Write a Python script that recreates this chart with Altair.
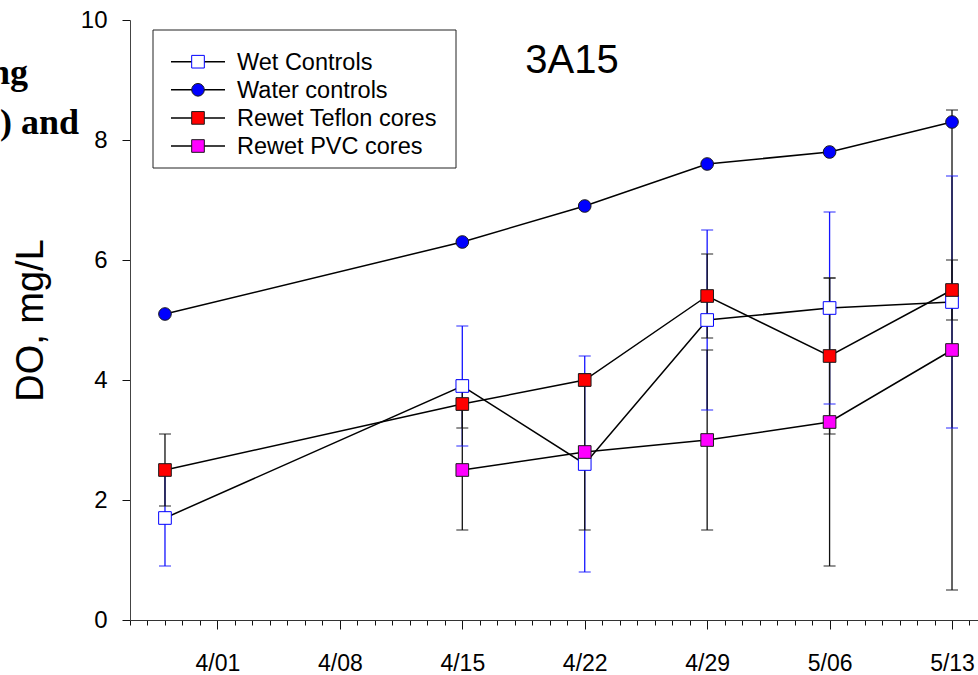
import datetime as dt

import altair as alt
import pandas as pd

# Sampling dates and dissolved-oxygen readings (mg/L) with error half-widths
dates = ["2015-03-29T00:00:00", "2015-04-15T00:00:00", "2015-04-22T00:00:00",
         "2015-04-29T00:00:00", "2015-05-06T00:00:00", "2015-05-13T00:00:00"]
series_names = ["Wet Controls", "Water controls", "Rewet Teflon cores", "Rewet PVC cores"]

wet_mean = [1.7, 3.9, 2.6, 5.0, 5.2, 5.3]
wet_err = [0.8, 1.0, 1.8, 1.5, 1.6, 2.1]
water_mean = [5.1, 6.3, 6.9, 7.6, 7.8, 8.3]
teflon_mean = [2.5, 3.6, 4.0, 5.4, 4.4, 5.5]
teflon_err = [0.6, 0.4, 0.1, 0.7, 1.3, 0.5]
pvc_dates = dates[1:]
pvc_mean = [2.5, 2.8, 3.0, 3.3, 4.5]
pvc_err = [1.0, 1.3, 1.5, 2.4, 4.0]

fill_range = ["#ffffff", "#0000ff", "#ff0000", "#ff00ff"]
stroke_range = ["#0000ff", "#1a1a1a", "#1a1a1a", "#1a1a1a"]
shape_range = ["square", "circle", "square", "square"]
err_range = ["#1414ff", "#111111", "#111111", "#111111"]

FONT = "Liberation Sans"

rows = []
err_rows = []
for name, ds, means, errs in [
    ("Wet Controls", dates, wet_mean, wet_err),
    ("Water controls", dates, water_mean, None),
    ("Rewet Teflon cores", dates, teflon_mean, teflon_err),
    ("Rewet PVC cores", pvc_dates, pvc_mean, pvc_err),
]:
    for i, (d, m) in enumerate(zip(ds, means)):
        rows.append({"date": d, "do": m, "series": name,
                     "order": series_names.index(name)})
        if errs is not None:
            err_rows.append({"date": d, "lo": m - errs[i], "hi": m + errs[i],
                             "series": name})

df = pd.DataFrame(rows)
edf = pd.DataFrame(err_rows)

# legend rows, laid out top to bottom inside the framed key
key_df = pd.DataFrame({"series": series_names})
key_df["ly"] = [41.7 + 28.1 * i for i in range(len(series_names))]

# daily minor ticks, weekly (Wednesday) labelled ticks
start = dt.date(2015, 3, 27)
tick_days = [start + dt.timedelta(days=k) for k in range(49)]
tick_values = [alt.DateTime(year=d.year, month=d.month, date=d.day) for d in tick_days]

x_scale = alt.Scale(
    domain=[alt.DateTime(year=2015, month=3, date=27),
            alt.DateTime(year=2015, month=5, date=14, hours=11, minutes=40)],
    nice=False,
)
y_scale = alt.Scale(domain=[0, 10], nice=False)

shape_scale = alt.Scale(domain=series_names, range=shape_range)
fill_scale = alt.Scale(domain=series_names, range=fill_range)
stroke_scale = alt.Scale(domain=series_names, range=stroke_range)

x_axis = alt.Axis(
    values=tick_values,
    tickCount=200,
    title=None,
    grid=False,
    tickSize={"condition": {"test": "day(datum.value) == 3", "value": 9}, "value": 5},
    tickColor="#111111",
    domainColor="#333333",
    labelExpr="day(datum.value) == 3 ? timeFormat(datum.value, '%-m/%d') : ''",
    labelFont=FONT,
    labelFontSize=23,
    labelColor="black",
    labelPadding=23,
    labelOverlap=False,
    labelFlush=False,
)
y_axis = alt.Axis(
    values=[0, 2, 4, 6, 8, 10],
    format="d",
    grid=False,
    tickSize=8,
    tickColor="#111111",
    domainColor="#444444",
    labelFont=FONT,
    labelFontSize=24,
    labelColor="black",
    labelPadding=15,
    labelFlush=False,
    title="DO, mg/L",
    titleFont=FONT,
    titleFontSize=38,
    titleFontWeight="normal",
    titleColor="black",
    titleAngle=270,
    titleAlign="center",
    titleBaseline="alphabetic",
    titleX=-88,
    titleY=300,
)

err_color = alt.Color("series:N", scale=alt.Scale(domain=series_names, range=err_range),
                      legend=None)

err_rules = alt.Chart(edf).mark_rule(strokeWidth=1.3).encode(
    x=alt.X("date:T", scale=x_scale, axis=x_axis),
    y=alt.Y("lo:Q", scale=y_scale, axis=y_axis),
    y2="hi:Q",
    color=err_color,
)
cap_lo = alt.Chart(edf).mark_tick(orient="horizontal", size=12, thickness=1.3).encode(
    x=alt.X("date:T", scale=x_scale), y=alt.Y("lo:Q", scale=y_scale), color=err_color)
cap_hi = alt.Chart(edf).mark_tick(orient="horizontal", size=12, thickness=1.3).encode(
    x=alt.X("date:T", scale=x_scale), y=alt.Y("hi:Q", scale=y_scale), color=err_color)

lines = alt.Chart(df).mark_line(color="black", strokeWidth=1.5).encode(
    x=alt.X("date:T", scale=x_scale),
    y=alt.Y("do:Q", scale=y_scale),
    detail="series:N",
)

points = alt.Chart(df).mark_point(filled=True, size=160, strokeWidth=1, opacity=1).encode(
    x=alt.X("date:T", scale=x_scale),
    y=alt.Y("do:Q", scale=y_scale),
    shape=alt.Shape("series:N", scale=shape_scale, legend=None),
    fill=alt.Fill("series:N", scale=fill_scale, legend=None),
    stroke=alt.Stroke("series:N", scale=stroke_scale, legend=None),
    order=alt.Order("order:Q"),
)

# framed key in the upper-left corner of the plot
key_box = alt.Chart(pd.DataFrame({"k": [0]})).mark_rect(
    fill=None, stroke="#222222", strokeWidth=1
).encode(x=alt.value(23), x2=alt.value(326), y=alt.value(10), y2=alt.value(148))

key_lines = alt.Chart(key_df).mark_rule(color="black", strokeWidth=1.5).encode(
    x=alt.value(41), x2=alt.value(95), y=alt.Y("ly:Q", scale=None))

key_marks = alt.Chart(key_df).mark_point(filled=True, size=160, strokeWidth=1, opacity=1).encode(
    x=alt.value(68),
    y=alt.Y("ly:Q", scale=None),
    shape=alt.Shape("series:N", scale=shape_scale, legend=None),
    fill=alt.Fill("series:N", scale=fill_scale, legend=None),
    stroke=alt.Stroke("series:N", scale=stroke_scale, legend=None),
)

key_text = alt.Chart(key_df).mark_text(
    font=FONT, fontSize=23.5, align="left", baseline="middle", color="black", dy=1
).encode(x=alt.value(107), y=alt.Y("ly:Q", scale=None), text="series:N")

panel_title = alt.Chart(pd.DataFrame({"t": ["3A15"]})).mark_text(
    font=FONT, fontSize=40, align="center", baseline="alphabetic", color="black"
).encode(text="t:N", x=alt.value(442), y=alt.value(53))

side_text = alt.Chart(pd.DataFrame({"t": ["ng", ") and"], "px": [-102, -51], "py": [64, 114]})).mark_text(
    font="Liberation Serif", fontSize=36, fontWeight="bold", align="right",
    baseline="alphabetic", color="black"
).encode(text="t:N", x=alt.X("px:Q", scale=None), y=alt.Y("py:Q", scale=None))

chart = alt.layer(
    err_rules, cap_lo, cap_hi, lines, points,
    key_box, key_lines, key_marks, key_text, panel_title, side_text,
).properties(
    width=848,
    height=600,
    autosize=alt.AutoSizeParams(type="none"),
    padding={"left": 130, "top": 20, "right": 0, "bottom": 55},
    background="white",
).configure_view(stroke=None)

chart.save("out.html", embed_options={"renderer": "svg", "actions": False})
